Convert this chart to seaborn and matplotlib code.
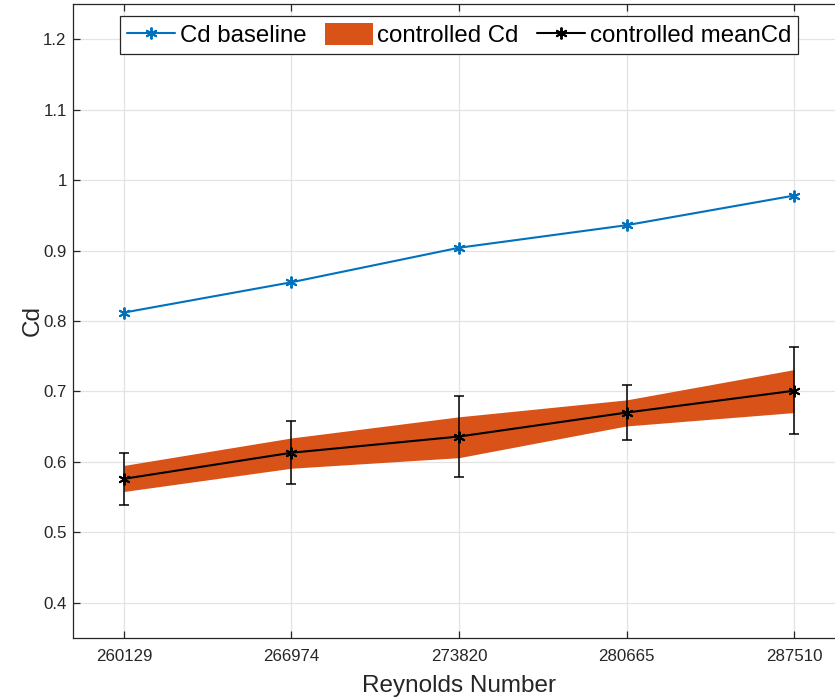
import numpy as np
import pandas as pd
import matplotlib
matplotlib.use("Agg")
import matplotlib.pyplot as plt
import seaborn as sns

# Reynolds numbers of the test runs
reynolds = [260129, 266974, 273820, 280665, 287510]

# Drag coefficient without control
cd_baseline = [0.812, 0.855, 0.904, 0.936, 0.978]

# Drag coefficient with control: mean, spread band and error bar half-widths
cd_ctrl_mean = [0.576, 0.613, 0.636, 0.670, 0.701]
cd_ctrl_upper = [0.595, 0.634, 0.664, 0.688, 0.731]
cd_ctrl_lower = [0.558, 0.591, 0.606, 0.651, 0.670]
cd_ctrl_err = [0.037, 0.045, 0.058, 0.039, 0.062]

tick_labels = [str(r) for r in reynolds]

BLUE = "#0072BD"
ORANGE = "#D95319"
AX_COLOR = "#262626"

sns.set_theme(style="whitegrid")
plt.rcParams["font.family"] = ["Liberation Sans", "DejaVu Sans"]

df_base = pd.DataFrame({"Re": reynolds, "Cd": cd_baseline})
df_ctrl = pd.DataFrame({"Re": reynolds, "Cd": cd_ctrl_mean,
                        "lo": cd_ctrl_lower, "hi": cd_ctrl_upper,
                        "err": cd_ctrl_err})

fig = plt.figure(figsize=(8.35, 7.0), dpi=100)
ax = fig.add_axes([73 / 835, 62 / 700, (845 - 73) / 835, (638 - 4) / 700])
ax.set_facecolor("white")

asterisk = (6, 2, 0)

sns.lineplot(data=df_base, x="Re", y="Cd", ax=ax, color=BLUE, lw=1.5,
             marker=asterisk, markersize=8.5, markeredgewidth=1.4,
             markeredgecolor=BLUE, label="Cd baseline", zorder=4)

band = ax.fill_between(df_ctrl["Re"], df_ctrl["lo"], df_ctrl["hi"],
                       color=ORANGE, lw=0, label="controlled Cd", zorder=2)

ax.errorbar(df_ctrl["Re"], df_ctrl["Cd"], yerr=df_ctrl["err"], fmt="none",
            ecolor="black", elinewidth=1.1, capsize=3.7, capthick=1.1,
            zorder=3)

sns.lineplot(data=df_ctrl, x="Re", y="Cd", ax=ax, color="black", lw=1.5,
             marker=asterisk, markersize=8.5, markeredgewidth=1.4,
             markeredgecolor="black", label="controlled meanCd", zorder=5)

step = reynolds[1] - reynolds[0]
pad = step * 51 / 167.5
ax.set_xlim(reynolds[0] - pad, reynolds[-1] + pad)
ax.set_ylim(0.35, 1.25)
ax.set_xticks(reynolds)
ax.set_xticklabels(tick_labels)
ax.set_yticks([0.4, 0.5, 0.6, 0.7, 0.8, 0.9, 1.0, 1.1, 1.2])
ax.set_yticklabels(["0.4", "0.5", "0.6", "0.7", "0.8", "0.9", "1", "1.1", "1.2"])

ax.grid(True, color="#e3e3e3", lw=0.9)
ax.set_axisbelow(True)
for side in ["left", "bottom", "top", "right"]:
    ax.spines[side].set_color(AX_COLOR)
    ax.spines[side].set_linewidth(0.9)
    ax.spines[side].set_visible(True)
ax.tick_params(axis="both", direction="in", length=5, width=0.9,
               color=AX_COLOR, labelcolor=AX_COLOR, labelsize=12.2,
               top=True, right=True, bottom=True, left=True)
ax.tick_params(axis="y", pad=4.5)
ax.tick_params(axis="x", pad=8)

ax.set_xlabel("Reynolds Number", fontsize=17.5, color=AX_COLOR, labelpad=8)
ax.set_ylabel("Cd", fontsize=17.5, color=AX_COLOR, labelpad=0)

h, l = ax.get_legend_handles_labels()
order = [l.index("Cd baseline"), l.index("controlled Cd"), l.index("controlled meanCd")]
leg = ax.legend([h[i] for i in order], [l[i] for i in order],
                loc="upper center", ncol=3, fontsize=17.3, frameon=True,
                fancybox=False, edgecolor=AX_COLOR, framealpha=1,
                handlelength=2.0, handleheight=1.0, handletextpad=0.2,
                columnspacing=0.75, borderpad=0.3, borderaxespad=0.5)
leg.get_frame().set_linewidth(0.9)
for t in leg.get_texts():
    t.set_color("black")

fig.savefig("out.png", dpi=100, facecolor="white")
